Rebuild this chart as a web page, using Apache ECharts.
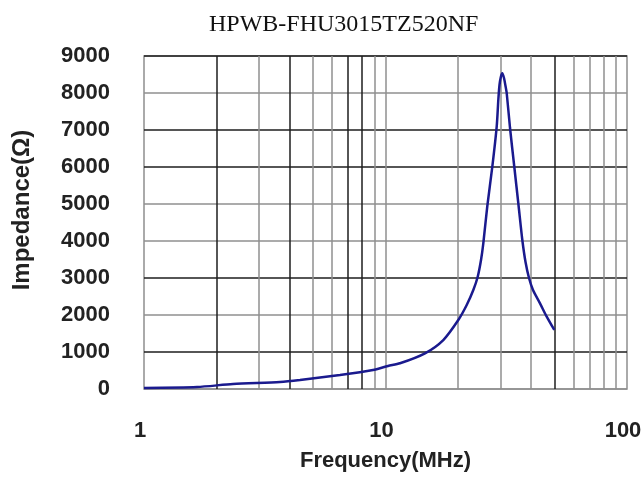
<!DOCTYPE html>
<html>
<head>
<meta charset="utf-8">
<script src="https://cdn.jsdelivr.net/npm/echarts@6/dist/echarts.min.js"></script>
<style>html,body{margin:0;padding:0;background:#fff}#c{width:642px;height:481px}</style>
</head>
<body>
<div id="c"></div>
<script>
const titleText = "HPWB-FHU3015TZ520NF";
const xName = "Frequency(MHz)";
const yName = "Impedance(\u03A9)";
const freq = [1, 1.658, 2.336, 3.658, 4.426, 6.48, 8.876, 10.24, 11.48, 14.57, 17.35, 20.02, 21.69, 23.1, 24.09, 24.86, 25.41, 26.4, 27.69, 28.87, 29.32, 29.65, 30.03, 30.45, 30.95, 31.4, 31.76, 32.78, 34.15, 35.58, 36.86, 38.0, 39.29, 40.81, 43.63, 46.51, 50];
const impedance = [30, 54, 135, 189, 243, 378, 514, 622, 695, 965, 1324, 1865, 2270, 2676, 3035, 3486, 3938, 4946, 6008, 7089, 7811, 8216, 8432, 8532, 8405, 8189, 8000, 7054, 6000, 4946, 4027, 3432, 3000, 2676, 2316, 1954, 1595];
const yTicks = [0, 1000, 2000, 3000, 4000, 5000, 6000, 7000, 8000, 9000];
const xGridValues = [2, 3, 4, 5, 6, 7, 8, 9, 10, 20, 30, 40, 50, 60, 70, 80, 90];
const xGridDark = [2, 4, 7, 8, 50];

const DARK = '#1e1e1e', GREY = '#8f8f8f';
const yDark = [1000, 3000, 6000, 7000, 9000];
const labelFont = {fontFamily: 'Liberation Sans', fontSize: 22, color: '#222', fontWeight: 'bold'};

const chart = echarts.init(document.getElementById('c'), null, {renderer: 'canvas'});
chart.setOption({
  animation: false,
  backgroundColor: '#fff',
  title: {
    text: titleText,
    left: 204, top: 8,
    textStyle: {fontFamily: 'Liberation Serif', fontWeight: 'normal', fontSize: 24, color: '#111'}
  },
  grid: {left: 144, top: 56, right: 15, bottom: 92, containLabel: false, outerBoundsMode: 'none',
         show: true, borderColor: GREY, borderWidth: 1.5},
  graphic: [{
    type: 'text', x: 22, y: 210, rotation: Math.PI / 2, silent: true,
    style: {text: yName, align: 'center', verticalAlign: 'middle', fontFamily: 'Liberation Sans', fontSize: 24, fontWeight: 'bold', fill: '#222'}
  }],
  xAxis: {
    type: 'log', logBase: 10, min: 1, max: 100,
    name: xName, nameLocation: 'middle', nameGap: 61,
    nameTextStyle: labelFont,
    axisLine: {show: false}, axisTick: {show: false},
    splitLine: {show: false},
    axisLabel: Object.assign({margin: 31, padding: [0, 8, 0, 0]}, labelFont)
  },
  yAxis: {
    type: 'value', min: 0, max: 9000, interval: 1000,
    axisLine: {show: false}, axisTick: {show: false},
    splitLine: {show: true, lineStyle: {width: 1.5, color: yTicks.map(v => yDark.includes(v) ? DARK : GREY)}},
    axisLabel: Object.assign({margin: 34, formatter: v => String(v)}, labelFont)
  },
  series: [
    {
      type: 'line', data: [], z: 1, silent: true,
      markLine: {
        silent: true, symbol: ['none', 'none'], label: {show: false},
        data: xGridValues.map(v => ({xAxis: v, lineStyle: {type: 'solid', width: 1.5, color: xGridDark.includes(v) ? DARK : GREY}}))
      }
    },
    {
      type: 'line', z: 5, showSymbol: false, smooth: 0.25,
      data: freq.map((f, i) => [f, impedance[i]]),
      lineStyle: {color: '#1a1a8e', width: 2.5}
    }
  ]
});
</script>
</body>
</html>
